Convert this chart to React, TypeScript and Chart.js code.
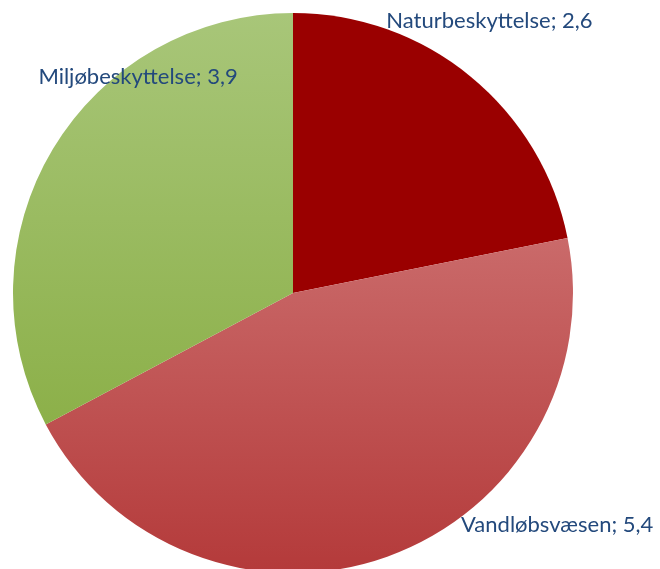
import React, { useEffect, useRef } from "react";
import { Chart, registerables } from "chart.js";

Chart.register(...registerables);

const categories = ["Naturbeskyttelse", "Vandløbsvæsen", "Miljøbeskyttelse"];
const values = [2.6, 5.4, 3.9];
const valueLabels = ["2,6", "5,4", "3,9"];

// gradient stops per slice (top colour, bottom colour)
const topColors = ["#9a0000", "#ca6a6a", "#a8c679"];
const bottomColors = ["#9a0000", "#b43a3a", "#8cb049"];

// label offsets from the slice's outer mid-point (dx, baseline dy)
const labelOffsets = [
  [19, -48],
  [170, -25],
  [85, -65],
];

function sliceExtent(area: any, i: number) {
  const cx = (area.left + area.right) / 2;
  const cy = (area.top + area.bottom) / 2;
  const r = Math.min(area.right - area.left, area.bottom - area.top) / 2;
  const total = values.reduce((a, b) => a + b, 0);
  let start = -Math.PI / 2;
  for (let k = 0; k < i; k++) start += (values[k] / total) * Math.PI * 2;
  const end = start + (values[i] / total) * Math.PI * 2;
  let yMin = cy;
  let yMax = cy;
  const n = 90;
  for (let k = 0; k <= n; k++) {
    const a = start + ((end - start) * k) / n;
    const y = cy + Math.sin(a) * r;
    yMin = Math.min(yMin, y);
    yMax = Math.max(yMax, y);
  }
  void cx;
  return [yMin, yMax];
}

const labelPlugin = {
  id: "sliceLabels",
  afterDatasetsDraw(chart: any) {
    const { ctx } = chart;
    const meta = chart.getDatasetMeta(0);
    ctx.save();
    ctx.font = "22px Lato, 'Open Sans', sans-serif";
    ctx.fillStyle = "#23497c";
    ctx.textAlign = "center";
    ctx.textBaseline = "alphabetic";
    meta.data.forEach((arc: any, i: number) => {
      const p = arc.getProps(["x", "y", "startAngle", "endAngle", "outerRadius"], true);
      const mid = (p.startAngle + p.endAngle) / 2;
      const ax = p.x + Math.cos(mid) * p.outerRadius;
      const ay = p.y + Math.sin(mid) * p.outerRadius;
      const text = `${categories[i]}; ${valueLabels[i]}`;
      ctx.fillText(text, ax + labelOffsets[i][0], ay + labelOffsets[i][1]);
    });
    ctx.restore();
  },
};

export default function App() {
  const ref = useRef<HTMLCanvasElement | null>(null);
  useEffect(() => {
    document.body.style.margin = "0";
    const canvas = ref.current!;
    const chart = new Chart(canvas, {
      type: "pie",
      data: {
        labels: categories,
        datasets: [
          {
            data: values,
            borderWidth: 0,
            backgroundColor: (c: any) => {
              const i = c.dataIndex;
              const area = c.chart.chartArea;
              if (!area) return topColors[i];
              const [y0, y1] = sliceExtent(area, i);
              const g = c.chart.ctx.createLinearGradient(0, y0, 0, y1);
              g.addColorStop(0, topColors[i]);
              g.addColorStop(1, bottomColors[i]);
              return g;
            },
          },
        ],
      },
      options: {
        responsive: false,
        animation: false,
        layout: { padding: { top: 13, left: 13, right: 87, bottom: 27 } },
        plugins: { legend: { display: false }, tooltip: { enabled: false } },
      },
      plugins: [labelPlugin],
    });
    return () => chart.destroy();
  }, []);
  return (
    <div style={{ position: "fixed", left: 0, top: 0, width: 660, height: 569, overflow: "hidden", background: "#fff" }}>
      <canvas ref={ref} width={660} height={600} style={{ width: 660, height: 600 }} />
    </div>
  );
}
